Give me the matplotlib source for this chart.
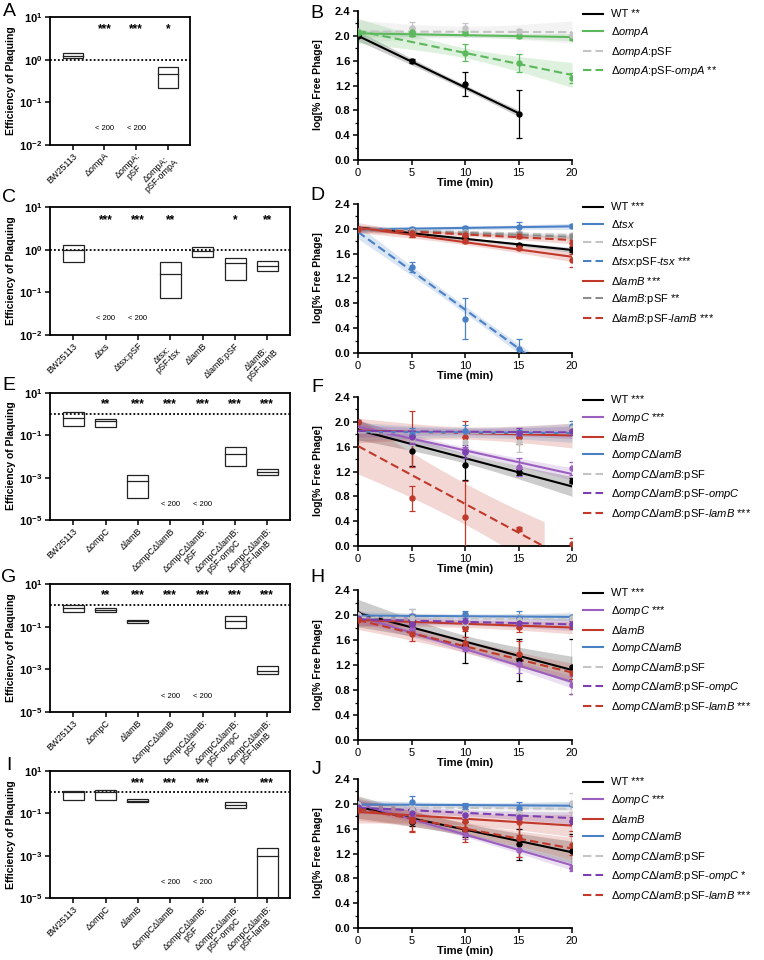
import numpy as np
import matplotlib
matplotlib.use('Agg')
import matplotlib.pyplot as plt
from matplotlib.lines import Line2D
from matplotlib.ticker import MultipleLocator, NullLocator, FixedLocator

plt.rcParams['font.family'] = ['Liberation Sans', 'DejaVu Sans']
plt.rcParams['mathtext.fontset'] = 'custom'
plt.rcParams['mathtext.rm'] = 'Liberation Sans'
plt.rcParams['mathtext.it'] = 'Liberation Sans:italic'
plt.rcParams['mathtext.bf'] = 'Liberation Sans:bold'

nan = np.nan
times = [0, 5, 10, 15, 20]

# ---- efficiency of plaquing (floating boxes: min, max, median) ----
a_labels = ['BW25113', 'ΔompA', 'ΔompA:\npSF', 'ΔompA:\npSF-ompA']
a_low = [1.1, nan, nan, 0.22]
a_high = [1.43, nan, nan, 0.67]
a_med = [1.24, nan, nan, 0.45]
a_stars = ['', '***', '***', '*']

c_labels = ['BW25113', 'Δtxs', 'Δtsx:pSF', 'Δtsx:\npSF-tsx', 'ΔlamB', 'ΔlamB:pSF', 'ΔlamB:\npSF-lamB']
c_low = [0.51, nan, nan, 0.072, 0.69, 0.19, 0.32]
c_high = [1.31, nan, nan, 0.51, 1.15, 0.64, 0.53]
c_med = [1.0, nan, nan, 0.27, 0.92, 0.48, 0.41]
c_stars = ['', '***', '***', '**', '', '*', '**']

omp_labels = ['BW25113', 'ΔompC', 'ΔlamB', 'ΔompCΔlamB', 'ΔompCΔlamB:\npSF',
              'ΔompCΔlamB:\npSF-ompC', 'ΔompCΔlamB:\npSF-lamB']

e_low = [0.28, 0.24, 1.1e-4, nan, nan, 3.5e-3, 1.4e-3]
e_high = [1.2, 0.6, 1.4e-3, nan, nan, 0.029, 2.6e-3]
e_med = [0.69, 0.47, 6.9e-4, nan, nan, 0.013, 1.9e-3]
e_stars = ['', '**', '***', '***', '***', '***', '***']

g_low = [0.5, 0.5, 0.15, nan, nan, 0.083, 5.9e-4]
g_high = [1.02, 0.72, 0.21, nan, nan, 0.33, 1.4e-3]
g_med = [0.75, 0.6, 0.18, nan, nan, 0.18, 8.5e-4]
g_stars = ['', '**', '***', '***', '***', '***', '***']

i_low = [0.41, 0.44, 0.34, nan, nan, 0.17, 1.0e-5]
i_high = [1.15, 1.28, 0.46, nan, nan, 0.35, 2.3e-3]
i_med = [0.97, 0.97, 0.40, nan, nan, 0.26, 1.0e-3]
i_stars = ['', '', '***', '***', '***', '', '***']

# ---- adsorption time courses ----
b_labels = ['WT **', 'Δ$\\mathit{ompA}$', 'Δ$\\mathit{ompA}$:pSF',
            'Δ$\\mathit{ompA}$:pSF-$\\mathit{ompA}$ **']
b_keys = ['wt', 'green', 'lgray', 'green_d']
b_means = [[2.00, 1.60, 1.22, 0.74, nan],
           [2.05, 2.03, 2.05, 1.99, 1.97],
           [2.07, 2.12, 2.12, 2.08, 2.02],
           [2.06, 2.06, 1.73, 1.56, 1.32]]
b_errs = [[0.01, 0.03, 0.19, 0.38, nan],
          [0.02, 0.03, 0.02, 0.02, 0.04],
          [0.03, 0.10, 0.08, 0.03, 0.04],
          [0.03, 0.06, 0.14, 0.15, 0.08]]
b_fit0 = [2.00, 2.04, 2.07, 2.08]
b_fit20 = [0.34, 1.98, 2.06, 1.37]
b_tend = [15, 20, 20, 20]
b_band = [(0.04, 0.08), (0.03, 0.06), (0.09, 0.18), (0.08, 0.20)]

d_labels = ['WT ***', 'Δ$\\mathit{tsx}$', 'Δ$\\mathit{tsx}$:pSF',
            'Δ$\\mathit{tsx}$:pSF-$\\mathit{tsx}$ ***', 'Δ$\\mathit{lamB}$ ***',
            'Δ$\\mathit{lamB}$:pSF **', 'Δ$\\mathit{lamB}$:pSF-$\\mathit{lamB}$ ***']
d_keys = ['wt', 'blue', 'lgray', 'blue_d', 'red', 'mgray', 'red_d']
d_means = [[2.00, 1.96, 1.86, 1.74, 1.66],
           [2.00, 2.00, 2.01, 2.03, 2.04],
           [2.00, 1.97, 1.95, 1.93, 1.90],
           [2.00, 1.38, 0.55, 0.06, nan],
           [2.00, 1.92, 1.80, 1.69, 1.49],
           [2.00, 1.95, 1.93, 1.92, 1.88],
           [2.00, 1.93, 1.90, 1.88, 1.77]]
d_errs = [[0.01, 0.02, 0.02, 0.02, 0.04],
          [0.01, 0.03, 0.04, 0.08, 0.03],
          [0.01, 0.02, 0.03, 0.03, 0.03],
          [0.01, 0.08, 0.33, 0.17, nan],
          [0.01, 0.05, 0.03, 0.03, 0.11],
          [0.01, 0.02, 0.03, 0.03, 0.03],
          [0.01, 0.06, 0.03, 0.03, 0.05]]
d_fit0 = [2.02, 1.99, 2.00, 1.95, 2.02, 2.00, 2.00]
d_fit20 = [1.66, 2.04, 1.90, -0.55, 1.55, 1.87, 1.82]
d_tend = [20, 20, 20, 20, 20, 20, 20]
d_band = [(0.02, 0.04), (0.03, 0.05), (0.02, 0.04), (0.06, 0.11),
          (0.04, 0.08), (0.02, 0.04), (0.03, 0.06)]

omp_legend = ['Δ$\\mathit{ompC}$Δ$\\mathit{lamB}$', 'Δ$\\mathit{ompC}$Δ$\\mathit{lamB}$:pSF',
              'Δ$\\mathit{ompC}$Δ$\\mathit{lamB}$:pSF-$\\mathit{ompC}$',
              'Δ$\\mathit{ompC}$Δ$\\mathit{lamB}$:pSF-$\\mathit{lamB}$']
omp_keys = ['wt', 'purple', 'red', 'blue', 'lgray', 'purple_d', 'red_d']

f_labels = ['WT ***', 'Δ$\\mathit{ompC}$ ***', 'Δ$\\mathit{lamB}$', omp_legend[0],
            omp_legend[1], omp_legend[2], omp_legend[3] + ' ***']
f_means = [[2.00, 1.53, 1.31, 1.19, 1.05],
           [2.00, 1.72, 1.54, 1.27, 1.25],
           [2.00, 1.73, 1.76, 1.75, 1.87],
           [2.00, 1.80, 1.85, 1.82, 1.93],
           [2.00, 1.72, 1.67, 1.67, 1.90],
           [2.00, 1.75, 1.52, 1.82, 1.85],
           [2.00, 0.77, 0.47, 0.27, 0.04]]
f_errs = [[0.01, 0.24, 0.25, 0.05, 0.04],
          [0.01, 0.06, 0.05, 0.15, 0.10],
          [0.01, 0.45, 0.25, 0.10, 0.03],
          [0.01, 0.10, 0.10, 0.05, 0.08],
          [0.01, 0.10, 0.15, 0.15, 0.05],
          [0.01, 0.10, 0.10, 0.08, 0.06],
          [0.01, 0.20, 0.58, 0.03, 0.09]]
f_fit0 = [1.87, 1.92, 1.86, 1.84, 1.83, 1.85, 1.61]
f_fit20 = [0.96, 1.16, 1.78, 1.82, 1.82, 1.83, -0.25]
f_tend = [20, 20, 20, 20, 20, 20, 17.4]
f_band = [(0.08, 0.16), (0.05, 0.10), (0.10, 0.20), (0.08, 0.15),
          (0.06, 0.12), (0.05, 0.10), (0.33, 0.45)]

h_labels = f_labels
h_means = [[2.01, 1.88, 1.52, 1.28, 1.17],
           [2.00, 1.78, 1.48, 1.22, 0.88],
           [1.95, 1.88, 1.80, 1.81, 1.86],
           [2.00, 1.98, 2.01, 1.96, 1.97],
           [2.00, 1.95, 1.88, 1.92, 1.95],
           [1.95, 1.85, 1.90, 1.88, 1.85],
           [1.92, 1.70, 1.55, 1.38, 1.08]]
h_errs = [[0.01, 0.10, 0.29, 0.33, 0.44],
          [0.01, 0.05, 0.05, 0.15, 0.15],
          [0.02, 0.14, 0.06, 0.08, 0.08],
          [0.01, 0.12, 0.06, 0.10, 0.03],
          [0.01, 0.15, 0.10, 0.10, 0.05],
          [0.02, 0.08, 0.08, 0.08, 0.06],
          [0.02, 0.12, 0.10, 0.20, 0.10]]
h_fit0 = [2.03, 1.98, 1.92, 1.99, 1.96, 1.93, 1.92]
h_fit20 = [1.12, 0.93, 1.80, 1.97, 1.93, 1.85, 1.08]
h_tend = [20] * 7
h_band = [(0.10, 0.22), (0.05, 0.10), (0.06, 0.10), (0.04, 0.06),
          (0.06, 0.12), (0.05, 0.10), (0.10, 0.15)]

j_labels = ['WT ***', 'Δ$\\mathit{ompC}$ ***', 'Δ$\\mathit{lamB}$', omp_legend[0],
            omp_legend[1], omp_legend[2] + ' *', omp_legend[3] + ' ***']
j_means = [[2.00, 1.70, 1.58, 1.35, 1.24],
           [2.00, 1.75, 1.52, 1.25, 0.97],
           [1.90, 1.75, 1.72, 1.70, 1.72],
           [2.00, 2.03, 1.96, 1.93, 1.99],
           [2.00, 1.90, 1.85, 1.85, 2.02],
           [1.95, 1.85, 1.82, 1.78, 1.73],
           [1.90, 1.72, 1.60, 1.45, 1.33]]
j_errs = [[0.01, 0.05, 0.12, 0.25, 0.27],
          [0.01, 0.05, 0.08, 0.10, 0.05],
          [0.02, 0.18, 0.20, 0.20, 0.15],
          [0.01, 0.10, 0.05, 0.10, 0.03],
          [0.01, 0.08, 0.08, 0.08, 0.15],
          [0.02, 0.06, 0.06, 0.06, 0.06],
          [0.02, 0.18, 0.22, 0.30, 0.15]]
j_fit0 = [1.95, 2.00, 1.87, 1.99, 1.95, 1.94, 1.92]
j_fit20 = [1.22, 1.01, 1.65, 1.97, 1.92, 1.77, 1.28]
j_tend = [20] * 7
j_band = [(0.10, 0.18), (0.04, 0.08), (0.10, 0.18), (0.04, 0.07),
          (0.06, 0.12), (0.05, 0.10), (0.10, 0.18)]

STYLE = {
    'wt': ('#000000', '-'),
    'green': ('#5cb85c', '-'),
    'green_d': ('#5cb85c', '--'),
    'lgray': ('#c4c4c4', '--'),
    'mgray': ('#8c8c8c', '--'),
    'blue': ('#4a80c4', '-'),
    'blue_d': ('#4a80c4', '--'),
    'red': ('#c0392b', '-'),
    'red_d': ('#c0392b', '--'),
    'purple': ('#9b5fc0', '-'),
    'purple_d': ('#7b3fb0', '--'),
}

W, H = 764, 960
fig = plt.figure(figsize=(W / 100, H / 100), dpi=100)


def box(x0, y0, x1, y1):
    return [x0 / W, 1 - y1 / H, (x1 - x0) / W, (y1 - y0) / H]


def eop_panel(rect, labels, low, high, med, stars, yticks, star_y, lim_y):
    ax = fig.add_axes(rect)
    n = len(labels)
    x = np.arange(n)
    w = 0.65
    for i in x:
        if np.isnan(low[i]):
            ax.text(i, lim_y, '< 200', ha='center', va='center', fontsize=5.5)
        else:
            ax.bar(i, high[i] - low[i], bottom=low[i], width=w, fill=False,
                   edgecolor='#222222', lw=0.9, zorder=3)
            ax.plot([i - w / 2, i + w / 2], [med[i], med[i]], color='#222222', lw=0.9, zorder=3)
        ax.text(i, star_y, stars[i], ha='center', va='center', fontsize=8.5, fontweight='bold')
    ax.set_yscale('log')
    ax.axhline(1, color='black', ls=(0, (1, 1.2)), lw=1.3, zorder=2)
    ax.set_ylim(yticks[-1], yticks[0])
    ax.set_xlim(-0.72, n - 0.3)
    ax.yaxis.set_major_locator(FixedLocator(yticks))
    ax.yaxis.set_minor_locator(NullLocator())
    ax.set_yticklabels(['$\\mathbf{10^{%d}}$' % round(np.log10(v)) for v in yticks], fontsize=8)
    ax.set_xticks(x)
    ax.set_xticklabels(labels, rotation=45, ha='right', va='top', rotation_mode='anchor',
                       fontsize=6.5, multialignment='center', linespacing=0.9)
    for sp in ax.spines.values():
        sp.set_linewidth(1.3)
    ax.tick_params(length=3.5, width=1.1, pad=2)
    ax.tick_params(axis='x', pad=1)
    return ax


def time_panel(rect, labels, keys, means, errs, fit0, fit20, tend, band):
    ax = fig.add_axes(rect)
    t = np.array(times, float)
    handles = []
    for k in range(len(labels)):
        color, ls = STYLE[keys[k]]
        dash = (0, (4, 2)) if ls == '--' else '-'
        tt = np.linspace(0, tend[k], 120)
        fit = fit0[k] + (fit20[k] - fit0[k]) * tt / 20
        c, e = band[k]
        hw = np.sqrt(c ** 2 + (e ** 2 - c ** 2) * ((tt - 10) / 10) ** 2)
        ax.fill_between(tt, fit - hw, fit + hw, color=color, alpha=0.2, lw=0, zorder=1)
        ax.plot(tt, fit, color=color, ls=dash, lw=1.5, zorder=3)
        ax.errorbar(t, means[k], yerr=errs[k], fmt='o', color=color, ms=3.6,
                    elinewidth=0.9, capsize=2, capthick=0.9, zorder=4)
        handles.append(Line2D([], [], color=color, ls=dash, lw=1.5, label=labels[k]))
    ax.set_xlim(0, 20)
    ax.set_ylim(0, 2.4)
    ax.set_xticks(times)
    ax.set_xticklabels([str(v) for v in times], fontsize=8)
    ax.set_yticks(np.arange(0, 2.41, 0.4))
    ax.set_yticklabels(['%.1f' % v for v in np.arange(0, 2.41, 0.4)], fontsize=8, fontweight='bold')
    ax.yaxis.set_minor_locator(MultipleLocator(0.2))
    ax.spines['top'].set_visible(False)
    ax.spines['right'].set_visible(False)
    for sp in ('left', 'bottom'):
        ax.spines[sp].set_linewidth(1.3)
    ax.tick_params(length=3.5, width=1.1, pad=2)
    ax.tick_params(which='minor', length=2, width=0.9)
    ax.set_xlabel('Time (min)', fontsize=8, fontweight='bold', labelpad=0)
    ax.legend(handles=handles, loc='upper left', bbox_to_anchor=(1.03, 1.04), frameon=False,
              fontsize=8, handlelength=1.8, handletextpad=0.7, labelspacing=0.5,
              borderaxespad=0)
    return ax


log_a = [10, 1, 0.1, 0.01]
log_e = [10, 0.1, 1e-3, 1e-5]
eop_panel(box(50, 17, 190, 145), a_labels, a_low, a_high, a_med, a_stars, log_a, 5.2, 0.024)
eop_panel(box(50, 207, 290, 335), c_labels, c_low, c_high, c_med, c_stars, log_a, 5.0, 0.024)
eop_panel(box(50, 393, 290, 520), omp_labels, e_low, e_high, e_med, e_stars, log_e, 2.85, 5.6e-5)
eop_panel(box(50, 584, 290, 712), omp_labels, g_low, g_high, g_med, g_stars, log_e, 2.9, 5.6e-5)
eop_panel(box(50, 771, 290, 898), omp_labels, i_low, i_high, i_med, i_stars, log_e, 2.8, 5.6e-5)

time_panel(box(358, 11, 572, 160), b_labels, b_keys, b_means, b_errs, b_fit0, b_fit20, b_tend, b_band)
time_panel(box(358, 204, 572, 353), d_labels, d_keys, d_means, d_errs, d_fit0, d_fit20, d_tend, d_band)
time_panel(box(358, 397, 572, 546), f_labels, omp_keys, f_means, f_errs, f_fit0, f_fit20, f_tend, f_band)
time_panel(box(358, 590, 572, 740), h_labels, omp_keys, h_means, h_errs, h_fit0, h_fit20, h_tend, h_band)
time_panel(box(358, 779, 572, 928), j_labels, omp_keys, j_means, j_errs, j_fit0, j_fit20, j_tend, j_band)

# y labels and panel letters
for yc in (81, 271, 456, 648, 835):
    fig.text(11 / W, 1 - yc / H, 'Efficiency of Plaquing', rotation=90, ha='center', va='center',
             fontsize=7.5, fontweight='bold')
for yc in (85, 278, 471, 665, 853):
    fig.text(318 / W, 1 - yc / H, 'log[% Free Phage]', rotation=90, ha='center', va='center',
             fontsize=7.5, fontweight='bold')
for letter, x, y in [('A', 9, 12), ('B', 317, 14), ('C', 9, 198), ('D', 317, 196),
                     ('E', 9, 386), ('F', 317, 387), ('G', 9, 578), ('H', 317, 578),
                     ('I', 9, 766), ('J', 317, 770)]:
    fig.text(x / W, 1 - y / H, letter, ha='center', va='center', fontsize=14)

fig.savefig('out.png', dpi=100)
